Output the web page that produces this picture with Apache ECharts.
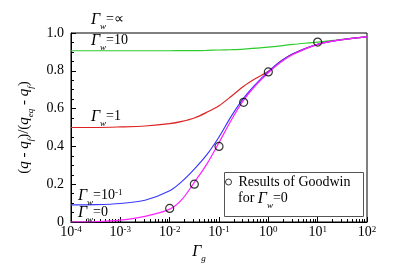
<!DOCTYPE html>
<html>
<head>
<meta charset="utf-8">
<script src="https://cdn.jsdelivr.net/npm/echarts@6/dist/echarts.min.js"></script>
<style>
  html, body { margin: 0; background: #fff; }
  #chart { width: 395px; height: 270px; }
</style>
</head>
<body>
<div id="chart"></div>
<script>
// Γg sample positions
var gammaG = [0.0001, 0.000316, 0.001, 0.00316, 0.01, 0.0178, 0.0316, 0.0562, 0.1, 0.178, 0.316, 0.562, 1, 1.78, 3.16, 10, 31.6, 100];
// curves for each Γw
var curveW10 = [0.906, 0.906, 0.906, 0.906, 0.906, 0.907, 0.907, 0.908, 0.91, 0.912, 0.915, 0.92, 0.925, 0.932, 0.94, 0.952, 0.967, 0.98];
var curveW1 = [0.50, 0.50, 0.503, 0.508, 0.52, 0.532, 0.55, 0.58, 0.615, 0.665, 0.718, 0.76, 0.797, 0.85, 0.89, 0.94, 0.965, 0.98];
var curveW01 = [0.091, 0.092, 0.098, 0.115, 0.165, 0.215, 0.28, 0.355, 0.45, 0.56, 0.655, 0.73, 0.795, 0.85, 0.89, 0.94, 0.965, 0.98];
var curveW0 = [0, 0.002, 0.01, 0.03, 0.068, 0.12, 0.21, 0.305, 0.42, 0.54, 0.645, 0.725, 0.79, 0.845, 0.886, 0.94, 0.965, 0.98];
// Goodwin results for Γw=0
var goodwinX = [0.01, 0.0316, 0.1, 0.316, 1, 10];
var goodwinY = [0.072, 0.20, 0.40, 0.633, 0.794, 0.952];

var serif = 'Liberation Serif';

function toPoints(xs, ys) {
  return xs.map(function (x, i) { return [Math.log10(x), ys[i]]; });
}

// ticks of the log axis (1..9 in every decade)
var logTicks = [];
for (var d = -4; d < 2; d++) {
  for (var m = 1; m <= 9; m++) logTicks.push(d + Math.log10(m));
}
logTicks.push(2);

var labelRich = {
  g: { fontFamily: serif, fontStyle: 'italic', fontSize: 16, lineHeight: 16, verticalAlign: 'top', color: '#000' },
  s: { fontFamily: serif, fontStyle: 'italic', fontSize: 9, lineHeight: 9, verticalAlign: 'top', padding: [10, 0, 0, 0], color: '#000' },
  n: { fontFamily: serif, fontSize: 14, lineHeight: 16, verticalAlign: 'top', color: '#000' },
  e: { fontFamily: serif, fontSize: 9, lineHeight: 9, verticalAlign: 'top', color: '#000' }
};

function note(left, top, text) {
  return { type: 'text', left: left, top: top, z: 10, style: { text: text, rich: labelRich } };
}

var myChart = echarts.init(document.getElementById('chart'));

var option = {
  animation: false,
  grid: { left: 71, top: 33, right: 28, bottom: 48, show: true, borderColor: '#000', borderWidth: 1 },
  legend: {
    data: ['Results of Goodwin'],
    left: 225,
    top: 175,
    padding: 0,
    itemWidth: 6,
    itemHeight: 6,
    itemStyle: { borderWidth: 1 },
    textStyle: { fontFamily: serif, fontSize: 14, color: '#000', padding: [0, 0, 0, 2] }
  },
  xAxis: [{
    type: 'value',
    min: -4,
    max: 2,
    interval: 1,
    axisLine: { lineStyle: { color: '#000', width: 1 } },
    axisTick: { inside: true, length: 3, customValues: logTicks, lineStyle: { color: '#000' } },
    splitLine: { show: false },
    axisLabel: {
      margin: 3,
      formatter: function (v) { return '{b|10}{e|' + v + '}'; },
      rich: {
        b: { fontFamily: serif, fontSize: 14, lineHeight: 14, verticalAlign: 'top', color: '#000' },
        e: { fontFamily: serif, fontSize: 9, lineHeight: 9, verticalAlign: 'top', color: '#000' }
      }
    },
    name: '{g|Γ}{s|g}',
    nameLocation: 'middle',
    nameGap: 21,
    nameTextStyle: { padding: [0, 40, 0, 0], rich: labelRich }
  }, {
    type: 'value',
    min: -4,
    max: 2,
    interval: 1,
    position: 'bottom',
    axisLine: { show: false },
    axisLabel: { show: false },
    splitLine: { show: false },
    axisTick: { show: true, inside: true, length: 5, lineStyle: { color: '#000' } }
  }],
  yAxis: {
    type: 'value',
    min: 0,
    max: 1,
    interval: 0.2,
    axisLine: { show: true, onZero: false, lineStyle: { color: '#000', width: 1 } },
    axisTick: { inside: true, length: 5, lineStyle: { color: '#000' } },
    minorTick: { show: true, splitNumber: 4, length: 3, lineStyle: { color: '#000' } },
    splitLine: { show: false },
    axisLabel: {
      margin: 7,
      fontFamily: serif,
      fontSize: 14,
      color: '#000',
      formatter: function (v) { return v === 0 ? '0' : v.toFixed(1); }
    },
    name: '{t|(}{q|q}{t| - }{q|q}{s|f}{t|)/(}{q|q}{s|eq}{t| - }{q|q}{s|f}{t|)}',
    nameLocation: 'middle',
    nameGap: 32,
    nameRotate: 90,
    nameTextStyle: {
      rich: {
        t: { fontFamily: serif, fontSize: 15, lineHeight: 16, verticalAlign: 'top', color: '#000' },
        q: { fontFamily: serif, fontStyle: 'italic', fontSize: 15, lineHeight: 16, verticalAlign: 'top', color: '#000' },
        s: { fontFamily: serif, fontStyle: 'italic', fontSize: 9, lineHeight: 9, verticalAlign: 'top', padding: [10, 0, 0, 0], color: '#000' }
      }
    }
  },
  series: [{
    name: 'Γw=10',
    type: 'line',
    showSymbol: false,
    smooth: 0.3,
    lineStyle: { color: '#2ecc2e', width: 1.2 },
    data: toPoints(gammaG, curveW10)
  }, {
    name: 'Γw=1',
    type: 'line',
    showSymbol: false,
    smooth: 0.3,
    lineStyle: { color: '#dd2222', width: 1.2 },
    data: toPoints(gammaG, curveW1)
  }, {
    name: 'Γw=0.1',
    type: 'line',
    showSymbol: false,
    smooth: 0.3,
    lineStyle: { color: '#3a3aff', width: 1.2 },
    data: toPoints(gammaG, curveW01)
  }, {
    name: 'Γw=0',
    type: 'line',
    showSymbol: false,
    smooth: 0.3,
    lineStyle: { color: '#ff22ff', width: 1.2 },
    data: toPoints(gammaG, curveW0)
  }, {
    name: 'Results of Goodwin',
    type: 'scatter',
    symbol: 'circle',
    symbolSize: 8,
    z: 5,
    itemStyle: { color: 'rgba(0,0,0,0)', borderColor: '#000', borderWidth: 1.2 },
    data: toPoints(goodwinX, goodwinY)
  }],
  graphic: [
    { type: 'rect', left: 222, top: 170, z: 10, shape: { width: 139, height: 44 }, style: { fill: 'none', stroke: '#555', lineWidth: 1 } },
    { type: 'text', left: 238, top: 191, z: 10, style: { text: '{n|for }{g|Γ}{s|w}{n|=0}', rich: labelRich } },
    note(91, 12, '{g|Γ}{s|w}{n|=∝}'),
    note(91, 33, '{g|Γ}{s|w}{n|=10}'),
    note(91, 109, '{g|Γ}{s|w}{n|=1}'),
    note(78, 188, '{g|Γ}{s|w}{n|=10}{e|-1}'),
    note(78, 205, '{g|Γ}{s|w}{n|=0}')
  ]
};

myChart.setOption(option);
</script>
</body>
</html>
